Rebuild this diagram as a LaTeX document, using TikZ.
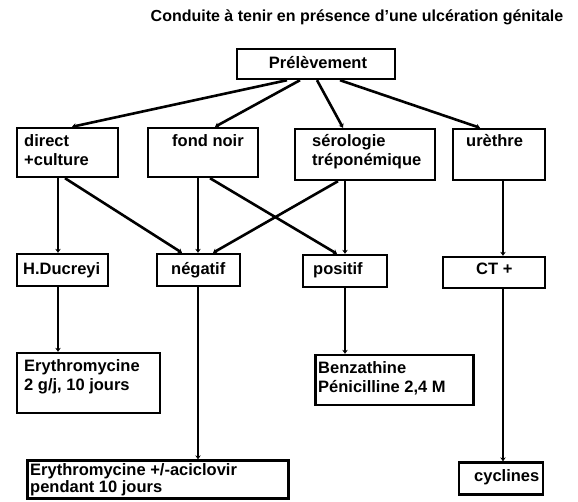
\documentclass[tikz,border=0pt]{standalone}
\usepackage{fontspec}
\setmainfont{Liberation Sans}
\usetikzlibrary{arrows.meta}
\begin{document}
\begin{tikzpicture}[x=1pt,y=-1pt,
  box/.style={draw,line width=2.4pt,rectangle,inner sep=0pt},
  txt/.style={anchor=north west,inner sep=0pt,align=left,font=\fontsize{16.5}{19.5}\selectfont\bfseries},
  conn/.style={line width=2.6pt,-{Stealth[length=4pt,width=5.5pt]}}]
\useasboundingbox (0,0) rectangle (578,501);
% title
\node[inner sep=0pt,font=\fontsize{16}{18}\selectfont\bfseries] (title) at (357,17) {Conduite à tenir en présence d'une ulcération génitale};
% boxes
\node[box,minimum width=158pt,minimum height=30pt] (prel) at (316,64) {};
\node[box,minimum width=101pt,minimum height=49pt] (direct) at (67.5,152.5) {};
\node[box,minimum width=110pt,minimum height=49pt] (fond) at (203,152.5) {};
\node[box,minimum width=140pt,minimum height=51pt] (sero) at (365,154.5) {};
\node[box,minimum width=92pt,minimum height=51pt] (uret) at (499,154.5) {};
\node[box,minimum width=91pt,minimum height=32pt] (hd) at (62.5,270) {};
\node[box,minimum width=83pt,minimum height=32pt] (neg) at (198.5,270) {};
\node[box,minimum width=84pt,minimum height=32pt] (pos) at (345,271) {};
\node[box,minimum width=102pt,minimum height=31pt] (ct) at (494,272.5) {};
\node[box,minimum width=143pt,minimum height=60pt] (ery) at (88.5,383) {};
\node[box,minimum width=158pt,minimum height=50pt] (benz) at (394.5,380) {};
\node[box,minimum width=261pt,minimum height=38pt] (ery2) at (158,479.5) {};
\node[box,minimum width=84pt,minimum height=32pt] (cyc) at (501,478.5) {};
% texts
\node[inner sep=0pt,font=\fontsize{16.5}{19.5}\selectfont\bfseries] (prel-t) at (318,63) {Prélèvement};
\node[txt] (direct-t) at (24,134) {direct\\+culture};
\node[txt] (fond-t) at (172,134) {fond noir};
\node[txt] (sero-t) at (312,134) {sérologie\\tréponémique};
\node[txt] (uret-t) at (466,134) {urèthre};
\node[txt] (hd-t) at (23,262) {H.Ducreyi};
\node[txt] (neg-t) at (171,262) {négatif};
\node[txt] (pos-t) at (313,262) {positif};
\node[txt] (ct-t) at (476,263) {CT +};
\node[txt] (ery-t) at (24,359) {Erythromycine\\2 g/j, 10 jours};
\node[txt] (benz-t) at (318,361) {Benzathine\\Pénicilline 2,4 M};
\node[txt,font=\fontsize{16.5}{17.5}\selectfont\bfseries] (ery2-t) at (30,463) {Erythromycine +/-aciclovir\\pendant 10 jours};
\node[txt] (cyc-t) at (474,469) {cyclines};
% connectors
\draw[conn] ([xshift=-29pt]prel.south) -- ([xshift=4.5pt]direct.north);
\draw[conn] ([xshift=-16pt]prel.south) -- ([xshift=12pt]fond.north);
\draw[conn] ([xshift=1pt]prel.south) -- ([xshift=-22pt]sero.north);
\draw[conn] ([xshift=24pt]prel.south) -- ([xshift=-19pt]uret.north);
\draw[conn] ([xshift=-9.5pt]direct.south) -- ([xshift=-4.5pt]hd.north);
\draw[conn] ([xshift=-2.5pt]direct.south) -- ([xshift=-16.5pt]neg.north);
\draw[conn] ([xshift=-5pt]fond.south) -- ([xshift=-0.5pt]neg.north);
\draw[conn] ([xshift=7pt]fond.south) -- ([xshift=-8pt]pos.north);
\draw[conn] ([xshift=-27pt]sero.south) -- ([xshift=14.5pt]neg.north);
\draw[conn] ([xshift=-20pt]sero.south) -- (pos.north);
\draw[conn] ([xshift=4pt]uret.south) -- ([xshift=9pt]ct.north);
\draw[conn] ([xshift=-4.5pt]hd.south) -- ([xshift=-30.5pt]ery.north);
\draw[conn] ([xshift=-0.5pt]neg.south) -- ([xshift=40pt]ery2.north);
\draw[conn] (pos.south) -- ([xshift=-49.5pt]benz.north);
\draw[conn] ([xshift=9pt]ct.south) -- ([xshift=2pt]cyc.north);
\end{tikzpicture}
\end{document}
